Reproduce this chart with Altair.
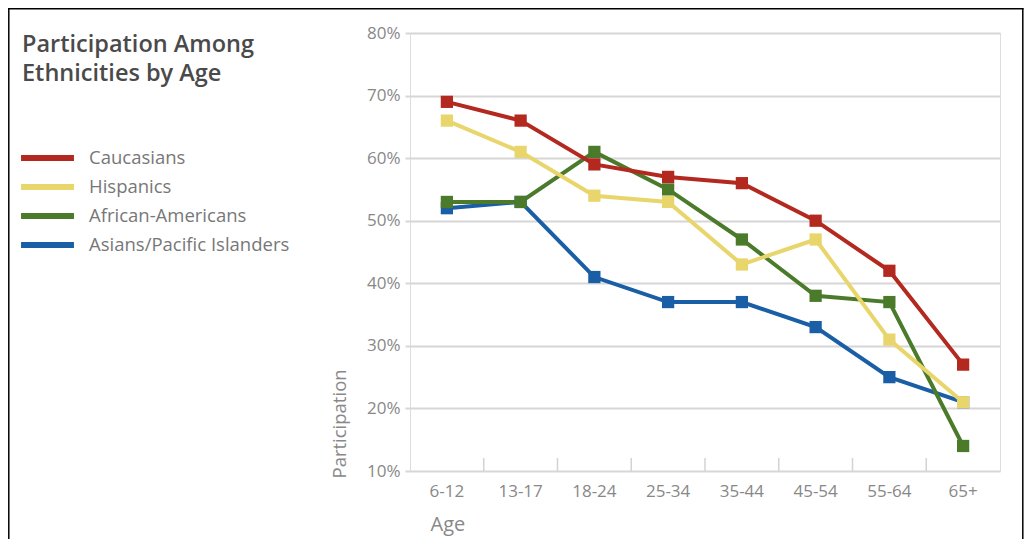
import altair as alt
import pandas as pd

ages = ["6-12", "13-17", "18-24", "25-34", "35-44", "45-54", "55-64", "65+"]
series = ["Caucasians", "Hispanics", "African-Americans", "Asians/Pacific Islanders"]
caucasians = [69, 66, 59, 57, 56, 50, 42, 27]
hispanics = [66, 61, 54, 53, 43, 47, 31, 21]
african_americans = [53, 53, 61, 55, 47, 38, 37, 14]
asians = [52, 53, 41, 37, 37, 33, 25, 21]
colors = ["#b3291f", "#e8d66c", "#4b7a2a", "#1a5fa6"]
y_ticks = [10, 20, 30, 40, 50, 60, 70, 80]

values_by_series = {
    "Caucasians": caucasians,
    "Hispanics": hispanics,
    "African-Americans": african_americans,
    "Asians/Pacific Islanders": asians,
}

rows = []
# draw order: Asians at the bottom, Caucasians on top
for z, s in enumerate(reversed(series)):
    for a, v in zip(ages, values_by_series[s]):
        rows.append({"age": a, "series": s, "value": v, "z": z})
df = pd.DataFrame(rows)

W, H = 590, 438
FONT = "Open Sans"

x_axis = alt.Axis(
    title="Age", titleFont=FONT, titleFontSize=20, titleFontWeight="normal",
    titleColor="#888888", titleAnchor="start", titleX=20, titleAlign="left",
    titlePadding=15,
    labelFont=FONT, labelFontSize=17, labelColor="#888888", labelPadding=12,
    labelAngle=0, ticks=False, domain=False, grid=False,
)
x_scale = alt.Scale(type="band", paddingInner=0, paddingOuter=0)

y_axis = alt.Axis(
    values=y_ticks, labelExpr="datum.value + '%'",
    labelFont=FONT, labelFontSize=17, labelColor="#888888", labelPadding=5,
    tickSize=5, tickColor="#d6d6d6", tickWidth=2, domain=False,
    grid=True, gridColor="#d6d6d6", gridWidth=2,
    title="Participation", titleFont=FONT, titleFontSize=18.5,
    titleFontWeight="normal", titleColor="#888888", titleAnchor="start",
    titleY=H + 7, titlePadding=17,
)
y_scale = alt.Scale(domain=[10, 80], nice=False, zero=False)

color_scale = alt.Scale(domain=series, range=colors)

base = alt.Chart(df)

lines = base.mark_line(strokeWidth=4).encode(
    x=alt.X("age:N", sort=ages, scale=x_scale, axis=x_axis, bandPosition=0.5),
    y=alt.Y("value:Q", scale=y_scale, axis=y_axis),
    color=alt.Color(
        "series:N", scale=color_scale,
        legend=alt.Legend(
            title=None, orient="none", legendX=-392, legendY=115,
            direction="vertical", symbolType="stroke", symbolSize=2800,
            symbolStrokeWidth=6, labelFont=FONT, labelFontSize=18.5,
            labelColor="#777777", labelOffset=12, labelLimit=400,
            clipHeight=20, rowPadding=9,
        ),
    ),
    detail="series:N",
)

points = base.mark_square(size=150, opacity=1).encode(
    x=alt.X("age:N", sort=ages, scale=x_scale, axis=x_axis, bandPosition=0.5),
    y=alt.Y("value:Q", scale=y_scale, axis=y_axis),
    color=alt.Color("series:N", scale=color_scale, legend=None),
    order=alt.Order("z:Q"),
)

ticks = alt.Chart(pd.DataFrame({"age": ages[1:]})).mark_rule(
    color="#d3d3d3", strokeWidth=1.5
).encode(
    x=alt.X("age:N", sort=ages, scale=x_scale, axis=x_axis, bandPosition=0),
    y=alt.value(H - 13),
    y2=alt.value(H),
)

frame = alt.Chart(pd.DataFrame({"k": [0]})).mark_rule(
    color="#000000", strokeWidth=1.5, clip=False
)
frame_top = frame.encode(x=alt.value(-402), x2=alt.value(613.5), y=alt.value(-24.2))
frame_left = frame.encode(x=alt.value(-401.2), y=alt.value(-25), y2=alt.value(H + 80))
frame_right = frame.encode(x=alt.value(612.8), y=alt.value(-25), y2=alt.value(H + 80))

chart = alt.layer(ticks, lines, points, frame_top, frame_left, frame_right).properties(
    width=W, height=H,
    title=alt.TitleParams(
        ["Participation Among", "Ethnicities by Age"], anchor="start",
        frame="group", dx=-388, dy=97, offset=0, baseline="alphabetic",
        font=FONT, fontSize=23.5, fontWeight=600, color="#4a4a4a", lineHeight=29,
    ),
    autosize=alt.AutoSizeParams(type="none"),
    padding={"left": 402, "top": 25, "right": 24, "bottom": 68},
).configure_view(
    fill="#ebebeb", stroke=None
).configure(background="#ffffff")

chart.save("out.html", embed_options={"renderer": "svg", "actions": False})
